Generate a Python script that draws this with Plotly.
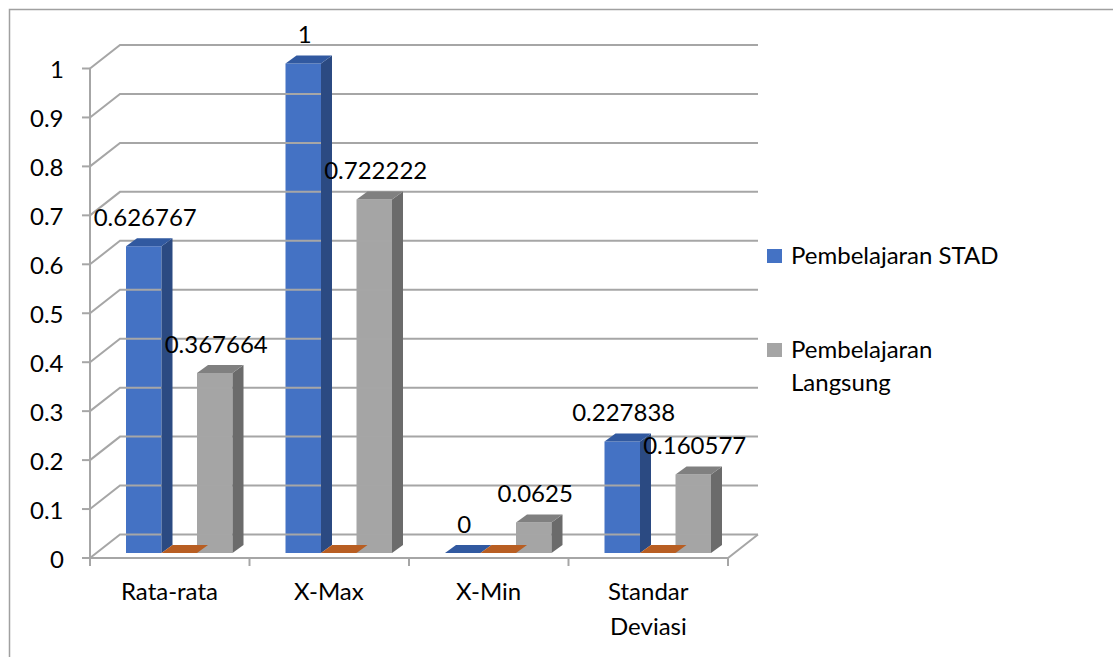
import plotly.graph_objects as go

# ---- data -------------------------------------------------------------
CATEGORIES = ["Rata-rata", "X-Max", "X-Min", "Standar<br>Deviasi"]
STAD = [0.626767, 1, 0, 0.227838]
LANGSUNG = [0.367664, 0.722222, 0.0625, 0.160577]
EMPTY_SERIES = [0, 0, 0, 0]
SERIES_NAMES = ["Pembelajaran STAD", "Pembelajaran<br>Langsung"]
Y_TICKS = [0, 0.1, 0.2, 0.3, 0.4, 0.5, 0.6, 0.7, 0.8, 0.9, 1]
Y_TICK_LABELS = ["0", "0.1", "0.2", "0.3", "0.4", "0.5", "0.6", "0.7", "0.8", "0.9", "1"]

# ---- geometry of the oblique 3-D projection ----------------------------
W, H = 1113, 657
CAT_PX = 159.5          # pixels per category
VAL_PX = 489.5          # pixels per value unit
LEFT_PX = 90            # front-left corner of the floor
ZERO_PX = 558           # front floor edge
WALL = (30, 23.5)       # depth of the back wall (px right, px up)
BAR_Z = (6.4, 5)        # depth at which the bars stand
BAR_D = (11, 8)         # depth of each bar
BAR_W = 35.5            # bar width in px
BAR_START = 29.6        # gap before the first bar in a category

FONT = "Lato"
FS = 24
GRID = "#a6a6a6"
CAT_LINE_PX = 35        # line spacing of category labels
LEG_LINE_PX = 33        # line spacing of legend labels


def du(px):
    return px / CAT_PX


def dv(px):
    return px / VAL_PX


x_range = [-0.5 - du(LEFT_PX), -0.5 + du(W - LEFT_PX)]
y_range = [-dv(H - ZERO_PX), dv(ZERO_PX)]

fig = go.Figure()

# back wall gridlines with their diagonal on the left wall
gx, gy = [], []
for t in Y_TICKS:
    gx += [-0.5, -0.5 + du(WALL[0]), 3.5 + du(WALL[0]), None]
    gy += [t, t + dv(WALL[1]), t + dv(WALL[1]), None]
# front value axis + tick marks
gx += [-0.5, -0.5, None]
gy += [0, Y_TICKS[-1], None]
for t in Y_TICKS:
    gx += [-0.5 - du(8), -0.5, None]
    gy += [t, t, None]
# floor front edge, right edge and category ticks
gx += [-0.5, 3.5, 3.5 + du(WALL[0]), None]
gy += [0, 0, dv(WALL[1]), None]
for b in range(len(CATEGORIES) + 1):
    gx += [b - 0.5, b - 0.5, None]
    gy += [0, -dv(8), None]
fig.add_trace(go.Scatter(x=gx, y=gy, mode="lines", line=dict(color=GRID, width=2),
                         hoverinfo="skip", showlegend=False))

series = [
    (STAD, "#4472c4", "#2b4a82", "#3159a0"),
    (EMPTY_SERIES, "#ed7d31", "#9c4f1c", "#b85e22"),
    (LANGSUNG, "#a5a5a5", "#6b6b6b", "#808080"),
]

base = dv(BAR_Z[1])
ddx, ddy = du(BAR_D[0]), dv(BAR_D[1])
bar_w = du(BAR_W)
label_pts = []
for k, (vals, front, side, top) in enumerate(series):
    off = -0.5 + du(BAR_START + k * BAR_W + BAR_Z[0])
    idx = list(range(len(vals)))
    # front faces
    fig.add_trace(go.Bar(x=idx, y=vals, base=base, width=bar_w, offset=off,
                         marker=dict(color=front, line=dict(width=0)),
                         hoverinfo="skip", showlegend=False))
    sx, sy, tx, ty = [], [], [], []
    for i, v in enumerate(vals):
        left = i + off
        right = left + bar_w
        top_v = base + v
        if v > 0:
            sx += [right, right, right + ddx, right + ddx, right, None]
            sy += [base, top_v, top_v + ddy, base + ddy, base, None]
        tx += [left, right, right + ddx, left + ddx, left, None]
        ty += [top_v, top_v, top_v + ddy, top_v + ddy, top_v, None]
        if vals is not EMPTY_SERIES:
            label_pts.append((left + bar_w / 2 + du(1.5), top_v + dv(26.5), f"{v:g}"))
    if sx:
        fig.add_trace(go.Scatter(x=sx, y=sy, mode="lines", fill="toself", fillcolor=side,
                                 line=dict(width=0, color=side), hoverinfo="skip",
                                 showlegend=False))
    fig.add_trace(go.Scatter(x=tx, y=ty, mode="lines", fill="toself", fillcolor=top,
                             line=dict(width=0, color=top), hoverinfo="skip",
                             showlegend=False))

# data labels
fig.add_trace(go.Scatter(x=[p[0] for p in label_pts], y=[p[1] for p in label_pts],
                         text=[p[2] for p in label_pts], mode="text",
                         textposition="middle center",
                         textfont=dict(family=FONT, size=FS, color="black"),
                         hoverinfo="skip", showlegend=False))

annotations = []
# value-axis tick labels
for t, lab in zip(Y_TICKS, Y_TICK_LABELS):
    annotations.append(dict(x=-0.5 - du(24), y=t, xref="x", yref="y", text=lab,
                            showarrow=False, xanchor="right", yanchor="middle",
                            font=dict(family=FONT, size=FS, color="black")))
# category labels, one annotation per line
for i, c in enumerate(CATEGORIES):
    for j, line in enumerate(c.split("<br>")):
        annotations.append(dict(x=i, y=-dv(32 + j * CAT_LINE_PX), xref="x", yref="y",
                                text=line, showarrow=False, xanchor="center",
                                yanchor="middle",
                                font=dict(family=FONT, size=FS, color="black")))

# legend
legend_items = [(SERIES_NAMES[0], "#4472c4", 256), (SERIES_NAMES[1], "#a5a5a5", 350)]
shapes = []
for name, col, cy in legend_items:
    shapes.append(dict(type="rect", xref="paper", yref="paper",
                       x0=767 / W, x1=782 / W, y0=1 - (cy + 7) / H, y1=1 - (cy - 7) / H,
                       fillcolor=col, line=dict(width=0)))
    for j, line in enumerate(name.split("<br>")):
        annotations.append(dict(x=789 / W, y=1 - (cy - 2 + j * LEG_LINE_PX) / H,
                                xref="paper", yref="paper", text=line, showarrow=False,
                                xanchor="left", yanchor="middle", align="left",
                                font=dict(family=FONT, size=FS, color="black")))

# chart-area border
shapes.append(dict(type="rect", xref="paper", yref="paper", x0=9.5 / W, y0=-0.05,
                   x1=1.05, y1=1 - 9.5 / H, line=dict(color="#a0a0a0", width=1.5),
                   fillcolor="rgba(0,0,0,0)", layer="below"))

fig.update_layout(
    width=W, height=H, autosize=False,
    margin=dict(l=0, r=0, t=0, b=0),
    paper_bgcolor="white", plot_bgcolor="white",
    barmode="overlay",
    xaxis=dict(range=x_range, visible=False, fixedrange=True),
    yaxis=dict(range=y_range, visible=False, fixedrange=True),
    annotations=annotations, shapes=shapes,
    showlegend=False,
)

fig.write_html("out.html")
